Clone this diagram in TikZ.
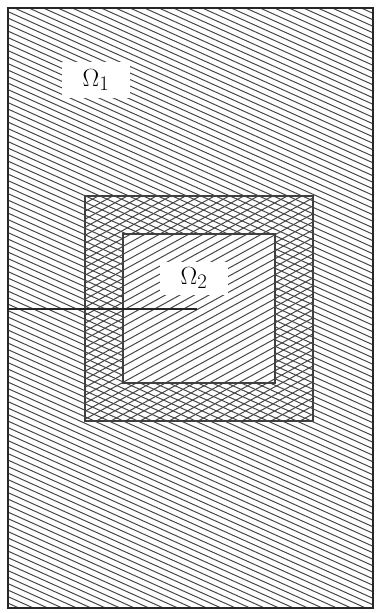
\documentclass[tikz,border=0pt]{standalone}
\begin{document}
\begin{tikzpicture}[x=1pt,y=-1pt,
  hatch/.style={draw=black!72,line width=1pt},
  border/.style={draw=black!75,line width=1.6pt},
  lbl/.style={fill=white,inner sep=0pt,font=\fontsize{30}{32}\selectfont}]
\useasboundingbox (0,0) rectangle (379,613);
% descending hatching in outer region
\begin{scope}[even odd rule]
  \clip (8,8) rectangle (373,608) (123,234) rectangle (275,383);
  \foreach \c in {-200,-193.5,...,620}{
    \draw[hatch] (0,\c) -- (379,\c+170.5);
  }
\end{scope}
% ascending hatching in the square (annulus + inner)
\begin{scope}
  \clip (85,196) rectangle (313,421);
  \foreach \c in {190,198,...,640}{
    \draw[hatch] (80,\c) -- (320,\c-132);
  }
\end{scope}
\coordinate (A) at (8,8);
\coordinate (B) at (373,608);
\draw[draw=black!85,line width=1.8pt] (A) rectangle (B);
\draw[border] (85,196) rectangle (313,421);
\draw[border] (123,234) rectangle (275,383);
\coordinate (L1) at (8,309);
\coordinate (L2) at (197,309);
\draw[black!85,line width=1.8pt] (L1) -- (L2);
\node[lbl,minimum width=68pt,minimum height=36pt] (o1) at (96,80) {$\Omega_1$};
\node[lbl,minimum width=68pt,minimum height=33pt] (o2) at (194,278) {$\Omega_2$};
\end{tikzpicture}
\end{document}
